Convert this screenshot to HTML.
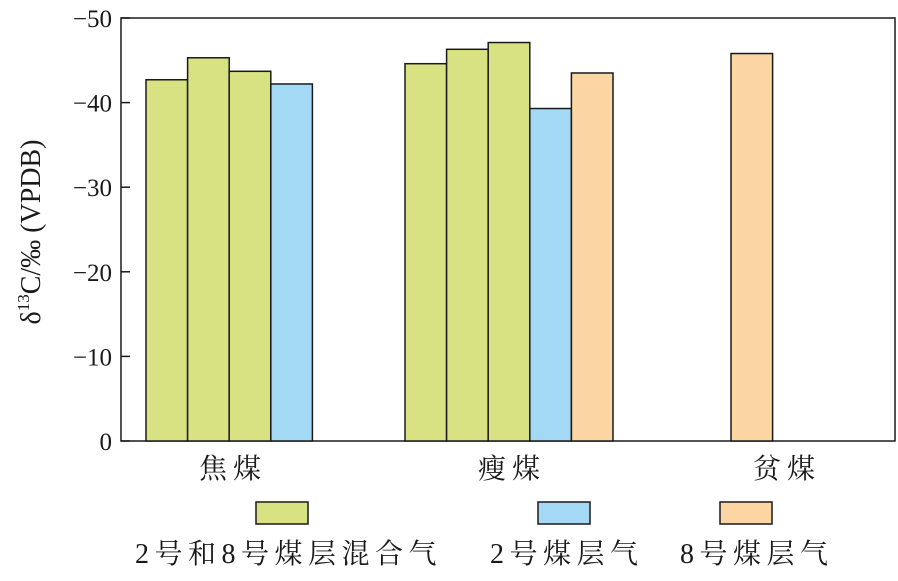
<!DOCTYPE html>
<html><head><meta charset="utf-8"><style>
body{margin:0;background:#fff;}
text{font-family:"Liberation Serif","Noto Serif CJK SC","Noto Sans CJK SC",serif;fill:#1a1a1a;}
</style></head><body>
<svg width="898" height="576" viewBox="0 0 898 576" xmlns="http://www.w3.org/2000/svg" id="c">
<rect x="121" y="18" width="774" height="423" fill="none" stroke="#1a1a1a" stroke-width="1.5"/>
<g id="axis"></g><g id="bars"></g>
<text transform="translate(40,232) rotate(-90)" text-anchor="middle" font-size="28">δ<tspan font-size="17" dy="-11">13</tspan><tspan dy="11">C/‰ (VPDB)</tspan></text>
<g>
<rect x="256" y="502" width="52" height="22" fill="#d8e283" stroke="#1a1a1a" stroke-width="1.5"/>
<rect x="538" y="502" width="52" height="22" fill="#a3d9f5" stroke="#1a1a1a" stroke-width="1.5"/>
<rect x="720" y="502" width="52" height="22" fill="#fbd5a2" stroke="#1a1a1a" stroke-width="1.5"/>
<text x="135" y="563" font-size="28" letter-spacing="5.5">2号和8号煤层混合气</text>
<text x="490" y="563" font-size="28" letter-spacing="5.5">2号煤层气</text>
<text x="680" y="563" font-size="28" letter-spacing="5.5">8号煤层气</text>
</g>
</svg>
<script>
const categories=["焦煤","瘦煤","贫煤"];
const mixedValues=[[42.7,45.3,43.7],[44.6,46.3,47.1],[]];
const coal2Values=[42.2,39.3,null];
const coal8Values=[null,43.5,45.8];
const yTicks=[0,-10,-20,-30,-40,-50];
const NS="http://www.w3.org/2000/svg";
const y0=441,y1=18,vmax=50;
const y=v=>y0-(Math.abs(v)/vmax)*(y0-y1);
const groupStart=[146,405,731],labelX=[230,509,784],bw=41.6;
const ax=document.getElementById('axis'),bg=document.getElementById('bars');
function mk(t,a,p){const e=document.createElementNS(NS,t);for(const k in a)e.setAttribute(k,a[k]);p.appendChild(e);return e;}
yTicks.forEach(t=>{
 const l=mk('line',{x1:121,x2:130,y1:y(t),y2:y(t),stroke:'#1a1a1a','stroke-width':1.5},ax);
 
 
 const tx=mk('text',{x:112,y:y(t)+9,'font-size':25,'text-anchor':'end'},ax);
 tx.textContent=t===0?'0':'−'+Math.abs(t);
 
 
});
categories.forEach((c,i)=>{
 const tx=mk('text',{x:labelX[i]+3,y:478,'font-size':28,'text-anchor':'middle','letter-spacing':6},ax);
 tx.textContent=c;
 
 
 let k=0;
 const bar=(v,col,name)=>{
  const r=mk('rect',{x:groupStart[i]+k*bw,y:y(v),width:bw,height:y0-y(v),fill:col,stroke:'#1a1a1a','stroke-width':1.5},bg);
  
  
  k++;
 };
 mixedValues[i].forEach(v=>bar(v,'#d8e283','bar-mixed'));
 if(coal2Values[i]!=null)bar(coal2Values[i],'#a3d9f5','bar-coal2');
 if(coal8Values[i]!=null)bar(coal8Values[i],'#fbd5a2','bar-coal8');
});
</script>
</body></html>
